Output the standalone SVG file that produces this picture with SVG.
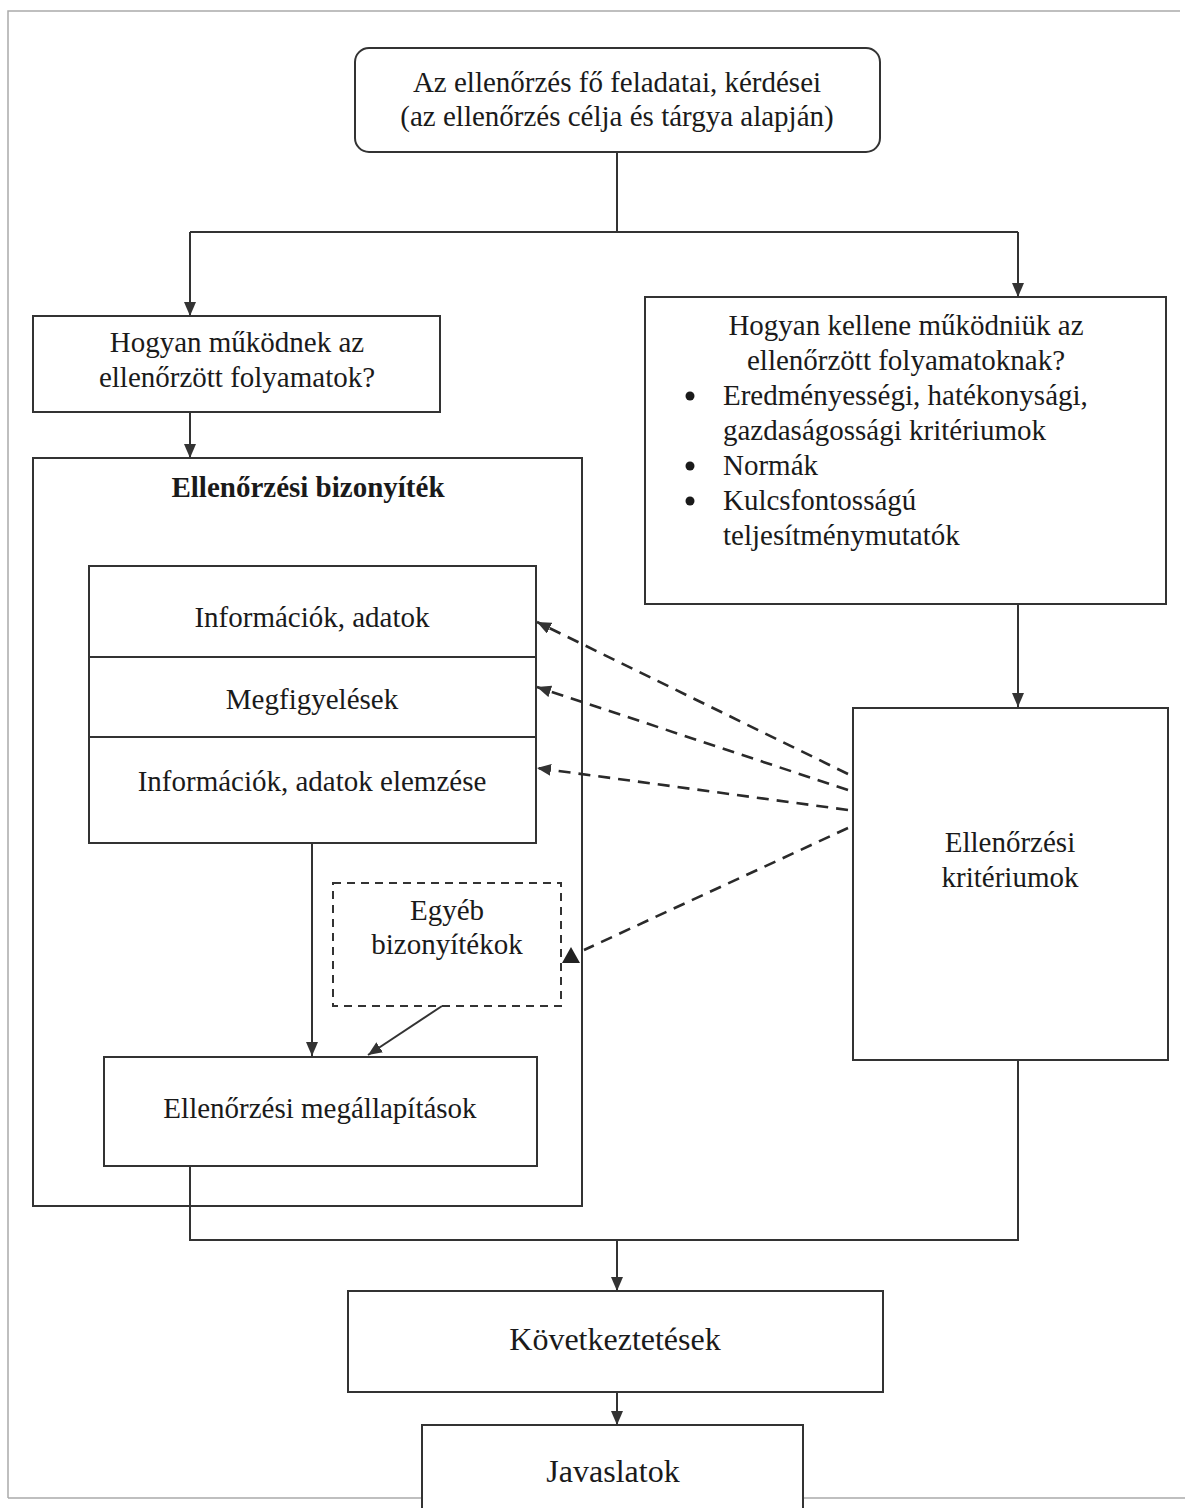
<svg xmlns="http://www.w3.org/2000/svg" width="1185" height="1508" viewBox="0 0 1185 1508">
<style>
.box{fill:#fff;stroke:#333;stroke-width:2}
.dbox{fill:#fff;stroke:#333;stroke-width:2;stroke-dasharray:8 6}
text{font-family:"Liberation Serif","Times New Roman","DejaVu Serif",serif;font-size:29px;fill:#1a1a1a}
.t{text-anchor:middle}
.big{font-size:32px}
.b{font-weight:bold}
.ln{fill:none;stroke:#333;stroke-width:2}
.dl{fill:none;stroke:#2a2a2a;stroke-width:2.6;stroke-dasharray:12 8}
.frame{fill:none;stroke:#aaa;stroke-width:1.5}
</style>
<defs>
<marker id="ah" markerUnits="userSpaceOnUse" markerWidth="14" markerHeight="12" refX="14" refY="6" orient="auto">
<path d="M0,0 L14,6 L0,12 z" fill="#333"/>
</marker>
</defs>
<rect width="1185" height="1508" fill="#fff"/>
<g id="frame">
<path class="frame" d="M8,1498 L8,11 L1180,11"/>
<path class="frame" d="M8,1498 L422,1498 M803,1498 L1185,1498"/>
</g>

<g id="n-top">
<rect class="box" x="355" y="48" width="525" height="104" rx="14"/>
<text class="t" x="617" y="92">Az ellenőrzés fő feladatai, kérdései</text>
<text class="t" x="617" y="126">(az ellenőrzés célja és tárgya alapján)</text>
</g>

<g id="n-hogyan-mukodnek">
<rect class="box" x="33" y="316" width="407" height="96"/>
<text class="t" x="237" y="352">Hogyan működnek az</text>
<text class="t" x="237" y="387">ellenőrzött folyamatok?</text>
</g>

<g id="n-hogyan-kellene">
<rect class="box" x="645" y="297" width="521" height="307"/>
<text class="t" x="906" y="335">Hogyan kellene működniük az</text>
<text class="t" x="906" y="370">ellenőrzött folyamatoknak?</text>
<circle cx="690" cy="396" r="4.5" fill="#1a1a1a"/>
<text x="723" y="405">Eredményességi, hatékonysági,</text>
<text x="723" y="440">gazdaságossági kritériumok</text>
<circle cx="690" cy="466" r="4.5" fill="#1a1a1a"/>
<text x="723" y="475">Normák</text>
<circle cx="690" cy="501" r="4.5" fill="#1a1a1a"/>
<text x="723" y="510">Kulcsfontosságú</text>
<text x="723" y="545">teljesítménymutatók</text>
</g>

<g id="n-bizonyitek">
<rect class="box" x="33" y="458" width="549" height="748"/>
<text class="t b" x="308" y="497">Ellenőrzési bizonyíték</text>
</g>

<g id="n-inner">
<rect class="box" x="89" y="566" width="447" height="277"/>
<path class="ln" d="M89,657 L536,657 M89,737 L536,737"/>
<text class="t" x="312" y="627">Információk, adatok</text>
<text class="t" x="312" y="709">Megfigyelések</text>
<text class="t" x="312" y="791">Információk, adatok elemzése</text>
</g>

<g id="n-egyeb">
<rect class="dbox" x="333" y="883" width="228" height="123"/>
<text class="t" x="447" y="920">Egyéb</text>
<text class="t" x="447" y="954">bizonyítékok</text>
</g>

<g id="n-megallapitasok">
<rect class="box" x="104" y="1057" width="433" height="109"/>
<text class="t" x="320" y="1118">Ellenőrzési megállapítások</text>
</g>

<g id="n-kriteriumok">
<rect class="box" x="853" y="708" width="315" height="352"/>
<text class="t" x="1010" y="852">Ellenőrzési</text>
<text class="t" x="1010" y="887">kritériumok</text>
</g>

<g id="n-kovetkeztetesek">
<rect class="box" x="348" y="1291" width="535" height="101"/>
<text class="t big" x="615" y="1350">Következtetések</text>
</g>

<g id="n-javaslatok">
<rect class="box" x="422" y="1425" width="381" height="100"/>
<text class="t big" x="613" y="1482">Javaslatok</text>
</g>

<g id="connectors">
<path class="ln" d="M617,152 L617,232"/>
<path class="ln" d="M190,232 L1018,232"/>
<path class="ln" d="M190,232 L190,316" marker-end="url(#ah)"/>
<path class="ln" d="M1018,232 L1018,297" marker-end="url(#ah)"/>
<path class="ln" d="M190,412 L190,458" marker-end="url(#ah)"/>
<path class="ln" d="M1018,604 L1018,707" marker-end="url(#ah)"/>
<path class="ln" d="M312,843 L312,1056" marker-end="url(#ah)"/>
<path class="ln" d="M442,1006 L368,1055" marker-end="url(#ah)"/>
<path class="ln" d="M190,1166 L190,1240 L1018,1240 L1018,1060"/>
<path class="ln" d="M617,1240 L617,1291" marker-end="url(#ah)"/>
<path class="ln" d="M617,1392 L617,1425" marker-end="url(#ah)"/>
<path class="dl" d="M848,774 L537,622" marker-end="url(#ah)"/>
<path class="dl" d="M848,790 L537,687" marker-end="url(#ah)"/>
<path class="dl" d="M848,810 L537,768" marker-end="url(#ah)"/>
<path class="dl" d="M848,828 L584,950"/>
<polygon points="571,947 562,963 580,963" fill="#222"/>
</g>
</svg>
